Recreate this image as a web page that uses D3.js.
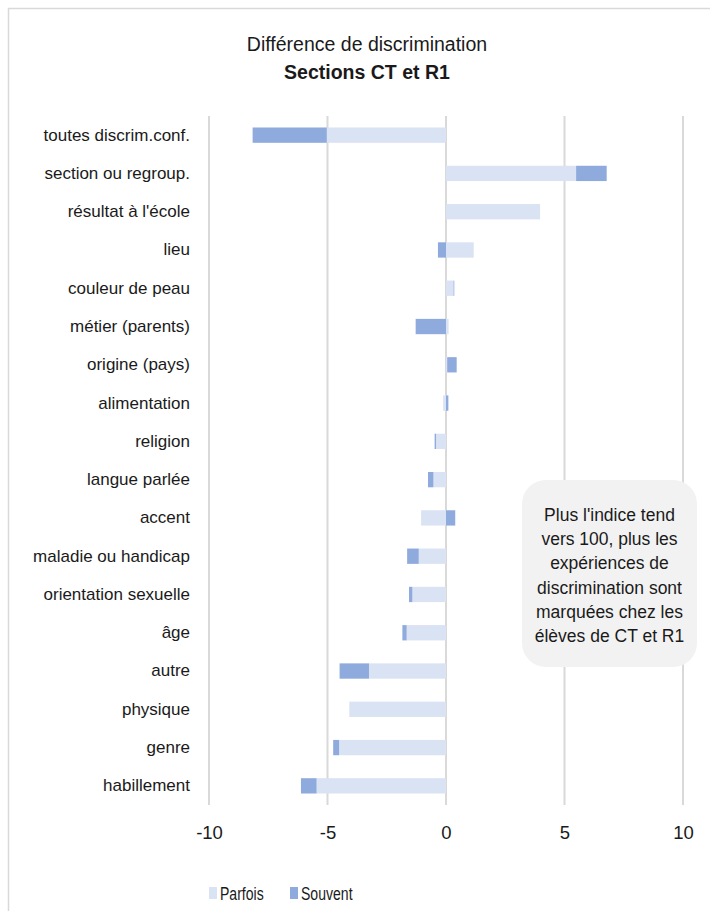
<!DOCTYPE html>
<html>
<head>
<meta charset="utf-8">
<script src="https://cdn.jsdelivr.net/npm/d3@7"></script>
<style>
  html, body { margin: 0; padding: 0; background: #fff; }
  svg { display: block; }
  text { font-family: "Liberation Sans Narrow", "Arial Narrow", "Liberation Sans", sans-serif; fill: #1a1a1a; }
</style>
</head>
<body>
<svg id="chart" width="710" height="911"></svg>
<script>
// Discrimination categories, top to bottom
const categories = [
  "toutes discrim.conf.", "section ou regroup.", "résultat à l'école", "lieu",
  "couleur de peau", "métier (parents)", "origine (pays)", "alimentation",
  "religion", "langue parlée", "accent", "maladie ou handicap",
  "orientation sexuelle", "âge", "autre", "physique", "genre", "habillement"
];
// Difference for "Parfois" answers
const parfois = [-5.03, 5.49, 3.97, 1.17, 0.32, 0.11, 0.05, -0.12, -0.42, -0.53,
                 -1.05, -1.15, -1.42, -1.66, -3.25, -4.08, -4.51, -5.46];
// Difference for "Souvent" answers
const souvent = [-3.13, 1.29, 0, -0.34, 0.03, -1.28, 0.40, 0.10, -0.06, -0.23,
                 0.39, -0.49, -0.14, -0.18, -1.24, 0, -0.25, -0.66];
const seriesNames = ["Parfois", "Souvent"];
const xTicks = [-10, -5, 0, 5, 10];
const titleLines = ["Différence de discrimination", "Sections CT et R1"];
const noteLines = ["Plus l'indice tend", "vers 100, plus les", "expériences de",
                   "discrimination sont", "marquées chez les", "élèves de CT et R1"];

const colors = { Parfois: "#dae3f3", Souvent: "#8faadc" };

const svg = d3.select("#chart");

// outer chart frame
svg.append("rect")
  .attr("x", 8.5).attr("y", 8.5)
  .attr("width", 800).attr("height", 1000)
  .attr("fill", "#fff").attr("stroke", "#d9d9d9").attr("stroke-width", 1.5);

// title
svg.append("text").attr("x", 367).attr("y", 51).attr("text-anchor", "middle")
  .attr("font-size", 19.5).text(titleLines[0]);
svg.append("text").attr("x", 367).attr("y", 79).attr("text-anchor", "middle")
  .attr("font-size", 19.5).attr("font-weight", "bold").text(titleLines[1]);

const plot = { left: 209, right: 683, top: 116, bottom: 805 };

const x = d3.scaleLinear().domain([-10, 10]).range([plot.left, plot.right]);
const y = d3.scaleBand().domain(categories)
  .range([plot.top, plot.bottom]).paddingInner(0.6).paddingOuter(0.3);

// vertical gridlines
svg.append("g").selectAll("line").data(xTicks).join("line")
  .attr("x1", d => x(d)).attr("x2", d => x(d))
  .attr("y1", plot.top).attr("y2", plot.bottom)
  .attr("stroke", "#d9d9d9").attr("stroke-width", 2);

// stacked diverging bars
const rows = categories.map((c, i) => ({ cat: c, Parfois: parfois[i], Souvent: souvent[i] }));
const stacked = d3.stack().keys(seriesNames).offset(d3.stackOffsetDiverging)(rows);

svg.append("g").selectAll("g").data(stacked).join("g")
  .attr("fill", d => colors[d.key])
  .selectAll("rect").data(d => d).join("rect")
  .attr("x", d => x(Math.min(d[0], d[1])))
  .attr("width", d => Math.abs(x(d[1]) - x(d[0])))
  .attr("y", d => y(d.data.cat))
  .attr("height", y.bandwidth());

// category labels
const yAxis = d3.axisLeft(y).tickSize(0).tickPadding(0);
const gy = svg.append("g").attr("transform", "translate(190,0)").call(yAxis);
gy.select(".domain").remove();
gy.selectAll("text").attr("font-size", 17).attr("fill", "#1a1a1a")
  .style("font-family", "'Liberation Sans Narrow', 'Arial Narrow', 'Liberation Sans', sans-serif");

// value axis labels
const xAxis = d3.axisBottom(x).tickValues(xTicks).tickSize(0).tickPadding(0).tickFormat(d => String(d));
const gx = svg.append("g").attr("transform", "translate(0,826)").call(xAxis);
gx.select(".domain").remove();
gx.selectAll("text").attr("font-size", 18.5).attr("fill", "#1a1a1a")
  .style("font-family", "'Liberation Sans Narrow', 'Arial Narrow', 'Liberation Sans', sans-serif");

// note box
svg.append("rect").attr("x", 522).attr("y", 480).attr("width", 175).attr("height", 187)
  .attr("rx", 24).attr("ry", 24).attr("fill", "#f2f2f2");
svg.append("g").selectAll("text").data(noteLines).join("text")
  .attr("x", 609.5).attr("y", (d, i) => 521 + i * 24.2)
  .attr("text-anchor", "middle").attr("font-size", 17.5).text(d => d);

// legend (condensed lettering)
const legend = svg.append("g");
const legendItems = [{ key: "Parfois", x: 209 }, { key: "Souvent", x: 290 }];
legend.selectAll("rect").data(legendItems).join("rect")
  .attr("x", d => d.x).attr("y", 887).attr("width", 8).attr("height", 12)
  .attr("fill", d => colors[d.key]);
legend.selectAll("text").data(legendItems).join("text")
  .attr("transform", d => `translate(${d.x + 11},900) scale(0.76,1)`)
  .attr("font-size", 18.5).text(d => d.key);
</script>
</body>
</html>
